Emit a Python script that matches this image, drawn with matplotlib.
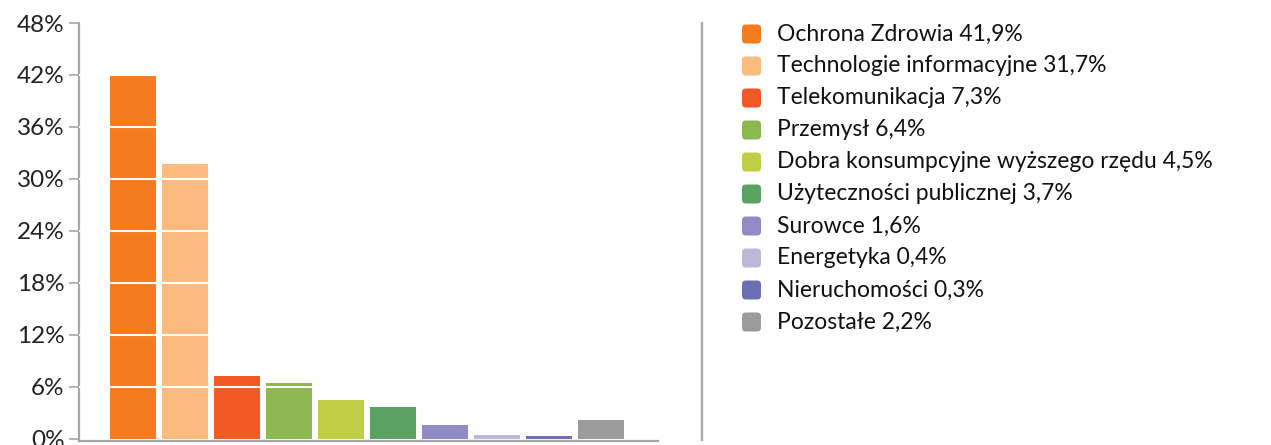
import matplotlib
matplotlib.use("Agg")
import matplotlib.pyplot as plt
from matplotlib.lines import Line2D
from matplotlib.patches import FancyBboxPatch

# data
sectors = ["Ochrona Zdrowia", "Technologie informacyjne", "Telekomunikacja", "Przemysł",
           "Dobra konsumpcyjne wyższego rzędu", "Użyteczności publicznej", "Surowce",
           "Energetyka", "Nieruchomości", "Pozostałe"]
shares = [41.9, 31.7, 7.3, 6.4, 4.5, 3.7, 1.6, 0.4, 0.3, 2.2]
colors = ["#F47B20", "#FBBB7E", "#F15A24", "#8DB750", "#BFCE45",
          "#5BA162", "#918BC4", "#BDB7DC", "#6C6FB5", "#9B9B9B"]
yticks = [0, 6, 12, 18, 24, 30, 36, 42, 48]

plt.rcParams['font.family'] = ['Lato', 'DejaVu Sans']

W, H = 1271, 445
fig = plt.figure(figsize=(W / 100, H / 100), dpi=100)


def fx(px):
    return px / W


def fy(py):
    return 1 - py / H


# axes spans pixels x 79..658, y 23..441
ax = fig.add_axes([fx(79), fy(441), fx(658) - fx(79), fy(23) - fy(441)])
x = list(range(len(shares)))
ax.bar(x, shares, width=46 / 52, color=colors, zorder=2)
for t in yticks[1:-1]:
    ax.axhline(t, color="white", lw=1.5, zorder=3)

ax.set_xlim(-1.04, 10.1)
ax.set_ylim(-0.25, 48)
ax.set_yticks(yticks)
ax.set_yticklabels([f"{t}%" for t in yticks])
ax.set_xticks([])
for s in ["top", "right"]:
    ax.spines[s].set_visible(False)
for s in ["left", "bottom"]:
    ax.spines[s].set_color("#A6A6A6")
    ax.spines[s].set_linewidth(1.6)
ax.tick_params(axis="y", length=7.5, width=1.2, color="#A6A6A6",
               labelsize=17.5, labelcolor="#222222", pad=3)

# separator line
fig.add_artist(Line2D([fx(702), fx(702)], [fy(23), fy(440)], color="#A6A6A6", lw=1.6))

# legend
for i, (name, val, c) in enumerate(zip(sectors, shares, colors)):
    yc = 34 + 32 * i
    box = FancyBboxPatch((fx(742), fy(yc + 9.5)), fx(19), fy(yc - 9.5) - fy(yc + 9.5),
                         boxstyle="round,pad=0,rounding_size=0.003",
                         facecolor=c, edgecolor="none", transform=fig.transFigure,
                         mutation_aspect=W / H)
    fig.add_artist(box)
    label = f"{name} {val:.1f}%".replace(".", ",")
    fig.text(fx(777), fy(yc), label, fontsize=16.5, color="#111111",
             va="center", ha="left")

fig.savefig("out.png", dpi=100)
